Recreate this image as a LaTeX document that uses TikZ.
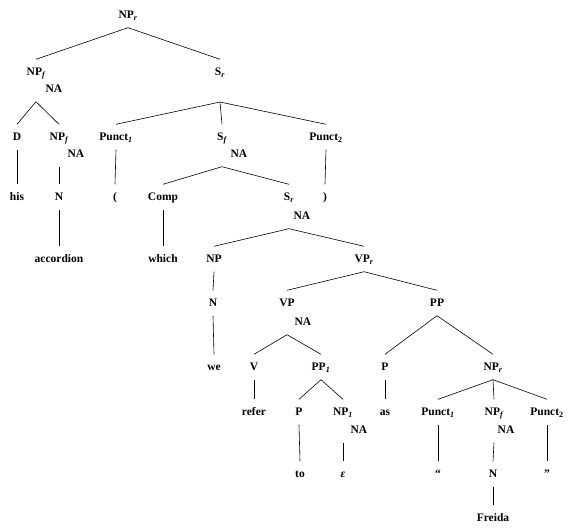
\documentclass[tikz,border=0pt]{standalone}
\usepackage{fontspec}
\setmainfont{Liberation Serif}
\newcommand\lsub[1]{\textsubscript{\itshape #1}}
\begin{document}
\begin{tikzpicture}[x=1pt,y=-1pt,
  lab/.style={font=\bfseries\fontsize{11.5}{13}\selectfont, text height=7pt, text depth=0pt, inner xsep=1pt, inner ysep=9pt},
  edge/.style={line width=0.6pt}]
\useasboundingbox[fill=white] (0,0) rectangle (574,531);
% row 1
\node[lab] (npr) at (128,15) {NP\lsub{r}};
% row 2
\node[lab] (npf1) at (36,72) {NP\lsub{f}};
\node[lab] (na1) at (54,89) {NA};
\node[lab] (sr1) at (220,72) {S\lsub{r}};
\coordinate (sr1a) at (220,102);
% row 3
\node[lab] (d) at (17,137) {D};
\node[lab] (npf2) at (59,137) {NP\lsub{f}};
\node[lab] (na2) at (76,154) {NA};
\node[lab] (p1) at (116,137) {Punct\lsub{1}};
\node[lab] (sf) at (222,137) {S\lsub{f}};
\node[lab] (na3) at (239,154) {NA};
\node[lab] (p2) at (326,137) {Punct\textsubscript{2}};
% row 4
\node[lab] (his) at (17,197) {his};
\node[lab] (n1) at (59,197) {N};
\node[lab] (lp) at (115,197) {(};
\node[lab] (comp) at (163,197) {Comp};
\node[lab] (sr2) at (289,197) {S\lsub{r}};
\node[lab] (na4) at (302,216) {NA};
\node[lab] (rp) at (325,197) {)};
% row 5
\node[lab] (acc) at (59,259) {accordion};
\node[lab] (which) at (163,259) {which};
\node[lab] (np) at (214,259) {NP};
\node[lab] (vpr) at (364,259) {VP\lsub{r}};
% row 6
\node[lab] (n2) at (213,303) {N};
\node[lab] (vp) at (287,303) {VP};
\node[lab] (na5) at (303,322) {NA};
\node[lab] (pp) at (437,303) {PP};
% row 7
\node[lab] (we) at (214,367) {we};
\node[lab] (v) at (254,367) {V};
\node[lab] (pp1) at (321,367) {PP\lsub{1}};
\node[lab] (p) at (385,367) {P};
\node[lab] (npr2) at (493,367) {NP\lsub{r}};
% row 8
\node[lab] (refer) at (254,412) {refer};
\node[lab] (p3) at (299,412) {P};
\node[lab] (np1) at (343,412) {NP\lsub{1}};
\node[lab] (na6) at (359,430) {NA};
\node[lab] (as) at (385,412) {as};
\node[lab] (pu1) at (438,412) {Punct\lsub{1}};
\node[lab] (npf3) at (494,412) {NP\lsub{f}};
\node[lab] (na7) at (506,430) {NA};
\node[lab] (pu2) at (547,412) {Punct\textsubscript{2}};
% row 9
\node[lab] (to) at (300,474) {to};
\node[lab] (eps) at (343,474) {\itshape ε};
\node[lab] (lq) at (438,474) {“};
\node[lab] (n3) at (493,474) {N};
\node[lab] (rq) at (547,474) {”};
% row 10
\node[lab] (freida) at (493,518) {Freida};

% edges
\draw[edge] (npf1.north) -- (npr.south) -- (sr1.north);
\draw[edge] (d.north) -- (npf1 |- na1.south) -- (npf2.north);
\draw[edge] (p1.north) -- (sr1a) -- (p2.north);
\draw[edge] (sr1a) -- (sf.north);
\draw[edge] (d.south) -- (his.north);
\draw[edge] (npf2 |- na2.south) -- (n1.north);
\draw[edge] (n1.south) -- (acc.north);
\draw[edge] (p1.south) -- (lp.north);
\draw[edge] (p2.south) -- (rp.north);
\draw[edge] (comp.north) -- (sf |- na3.south) -- (sr2.north);
\draw[edge] (comp.south) -- (which.north);
\draw[edge] (np.north) -- (sr2 |- na4.south) -- (vpr.north);
\draw[edge] (np.south) -- (n2.north);
\draw[edge] (n2.south) -- (we.north);
\draw[edge] (vp.north) -- (vpr.south) -- (pp.north);
\draw[edge] (v.north) -- (vp |- na5.south) -- (pp1.north);
\draw[edge] (p.north) -- (pp.south) -- (npr2.north);
\draw[edge] (v.south) -- (refer.north);
\draw[edge] (p3.north) -- (pp1.south) -- (np1.north);
\draw[edge] (p.south) -- (as.north);
\draw[edge] (pu1.north) -- (npr2.south) -- (pu2.north);
\draw[edge] (npr2.south) -- (npf3.north);
\draw[edge] (p3.south) -- (to.north);
\draw[edge] (np1 |- na6.south) -- (eps.north);
\draw[edge] (pu1.south) -- (lq.north);
\draw[edge] (npf3 |- na7.south) -- (n3.north);
\draw[edge] (n3.south) -- (freida.north);
\draw[edge] (pu2.south) -- (rq.north);
\end{tikzpicture}
\end{document}
